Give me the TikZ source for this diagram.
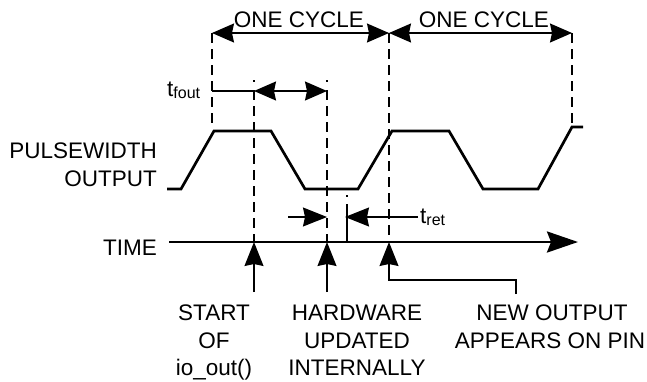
\documentclass[tikz,border=0pt]{standalone}
\usepackage{fontspec}
\setmainfont{Liberation Sans}
\usetikzlibrary{arrows.meta}
\begin{document}
\begin{tikzpicture}[x=1pt,y=-1pt,
  lbl/.style={font=\fontsize{22.5}{28}\selectfont, inner sep=0pt, anchor=base},
  wave/.style={line width=2.7pt, line join=miter},
  dsh/.style={line width=1.8pt, dash pattern=on 10pt off 6pt},
  thinline/.style={line width=1.3pt},
  bigtip/.style={-{Stealth[length=24pt,width=19pt,inset=2pt]}},
  dbltip/.style={{Stealth[length=22pt,width=19pt,inset=2pt]}-{Stealth[length=22pt,width=19pt,inset=2pt]}},
  axistip/.style={-{Stealth[length=31pt,width=21pt,inset=4pt]}}
]
\useasboundingbox (0,0) rectangle (647,381);

% labels
\node[lbl] (oc1) at (299,27) {ONE CYCLE};
\node[lbl] (oc2) at (484,27) {ONE CYCLE};
\node[lbl, anchor=base east] (pw) at (157,158) {PULSEWIDTH};
\node[lbl, anchor=base east] (out) at (157,186) {OUTPUT};
\node[lbl, anchor=base east] (time) at (157,255) {TIME};
\node[lbl, anchor=base west] (tfout) at (167,96) {t{\fontsize{16}{16}\selectfont\raisebox{-2.5pt}{fout}}};
\node[lbl, anchor=base west] (tret) at (420,223) {t{\fontsize{16}{16}\selectfont\raisebox{-2.5pt}{ret}}};
\node[lbl] (s1) at (214,320) {START};
\node[lbl] (s2) at (214,348) {OF};
\node[lbl] (s3) at (214,375) {io\_out()};
\node[lbl] (h1) at (357,320) {HARDWARE};
\node[lbl] (h2) at (357,348) {UPDATED};
\node[lbl] (h3) at (357,375) {INTERNALLY};
\node[lbl] (n1) at (552,320) {NEW OUTPUT};
\node[lbl] (n2) at (550,348) {APPEARS ON PIN};

% coordinates
\coordinate (d1t) at (212,33);  \coordinate (d1b) at (212,127);
\coordinate (d2p) at (254,80);  \coordinate (d2q) at (254,81.5);
\coordinate (d2t) at (254,90);  \coordinate (d2b) at (254,242);
\coordinate (d3p) at (327,80);  \coordinate (d3q) at (327,81.5);
\coordinate (d3t) at (327,90);  \coordinate (d3b) at (327,242);
\coordinate (d4t) at (389,33);  \coordinate (d4b) at (389,242);
\coordinate (d5t) at (572,33);  \coordinate (d5b) at (572,127);
\coordinate (tkp) at (347,195); \coordinate (tkq) at (347,196.5);
\coordinate (tkt) at (347,204); \coordinate (tkb) at (347,242);

% waveform
\draw[wave] (167,189) -- (181,189) -- (214,131) -- (271,131) -- (305,189)
  -- (358,189) -- (392,131) -- (449,131) -- (483,189) -- (538,189)
  -- (572,127) -- (583,127);

% dashed verticals
\draw[dsh] (d1t) -- (d1b);
\draw[line width=1.8pt] (d2p) -- (d2q);
\draw[dsh] (d2t) -- (d2b);
\draw[line width=1.8pt] (d3p) -- (d3q);
\draw[dsh] (d3t) -- (d3b);
\draw[dsh] (d4t) -- (d4b);
\draw[dsh] (d5t) -- (d5b);
\draw[line width=1.8pt] (tkp) -- (tkq);
\draw[line width=1.8pt] (tkt) -- (tkb);

% one cycle arrows
\coordinate (c1) at (212,33); \coordinate (c2) at (389,33); \coordinate (c3) at (572,33);
\draw[thinline, dbltip] (c1) -- (c2);
\draw[thinline, dbltip] (c2) -- (c3);

% t_fout
\coordinate (f0) at (212,91); \coordinate (f1) at (254,91); \coordinate (f2) at (327,91);
\draw[thinline] (f0) -- (f1);
\draw[thinline, dbltip] (f1) -- (f2);

% t_ret
\coordinate (r0) at (288,217); \coordinate (r1) at (327,217);
\coordinate (r2) at (345,217); \coordinate (r3) at (418,217);
\draw[thinline, bigtip] (r0) -- (r1);
\draw[thinline, bigtip] (r3) -- (r2);

% time axis
\coordinate (ta) at (169,242); \coordinate (tb) at (578,242);
\draw[line width=2.7pt, axistip] (ta) -- (tb);

% event arrows
\coordinate (e1) at (254,292); \coordinate (e2) at (327,292);
\coordinate (e3a) at (516,294); \coordinate (e3b) at (516,280); \coordinate (e3c) at (389,280);
\draw[thinline, bigtip] (e1) -- (d2b);
\draw[thinline, bigtip] (e2) -- (d3b);
\draw[thinline, bigtip] (e3a) -- (e3b) -- (e3c) -- (d4b);
\end{tikzpicture}
\end{document}
